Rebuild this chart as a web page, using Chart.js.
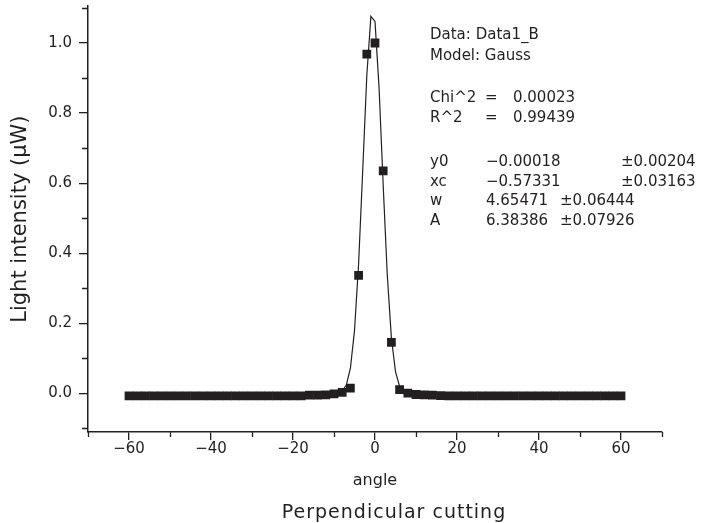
<!DOCTYPE html>
<html>
<head>
<meta charset="utf-8">
<script src="https://cdn.jsdelivr.net/npm/chart.js@4.4.1/dist/chart.umd.min.js"></script>
<style>
html,body{margin:0;padding:0;background:#fff;}
#wrap{width:720px;height:523px;position:relative;}
</style>
</head>
<body>
<div id="wrap"><canvas id="c" width="720" height="523"></canvas></div>
<script>
// ---- measured data (angle vs light intensity) ----
const pointX = [-60,-58,-56,-54,-52,-50,-48,-46,-44,-42,-40,-38,-36,-34,-32,-30,-28,-26,-24,-22,-20,-18,
  -16,-14,-12,-10,-8,-6,-4,-2,0,2,4,6,8,10,12,14,16,
  18,20,22,24,26,28,30,32,34,36,38,40,42,44,46,48,50,52,54,56,58,60];
const pointY = [-0.007,-0.007,-0.007,-0.007,-0.007,-0.007,-0.007,-0.007,-0.007,-0.007,-0.007,-0.007,-0.007,-0.007,-0.007,-0.007,-0.007,-0.007,-0.007,-0.007,-0.007,-0.007,
  -0.005,-0.005,-0.004,-0.001,0.003,0.015,0.337,0.968,1.000,0.635,0.146,0.011,0.001,-0.003,-0.004,-0.005,-0.006,
  -0.007,-0.007,-0.007,-0.007,-0.007,-0.007,-0.007,-0.007,-0.007,-0.007,-0.007,-0.007,-0.007,-0.007,-0.007,-0.007,-0.007,-0.007,-0.007,-0.007,-0.007,-0.007];

// ---- fitted Gauss curve, as drawn ----
const fitX = [-60,-12,-11,-10,-9,-8,-7,-6,-5,-4,-3,-2,-1,0,1,2,3,4,5,6,7,8,9,10,11,12,60];
const fitY = [-0.0002,-0.0002,-0.0001,0.0001,0.0014,0.0065,0.0240,0.0720,0.1791,0.3700,0.6352,0.9066,1.0759,
  1.0614,0.8706,0.5936,0.3365,0.1586,0.0620,0.0201,0.0053,0.0011,0.0001,-0.0002,-0.0002,-0.0002,-0.0002];

// ---- ticks ----
const xTickValues = [-60,-40,-20,0,20,40,60];
const xTickLabels = ['\u221260','\u221240','\u221220','0','20','40','60'];
const xMinorTicks = [-70,-50,-30,-10,10,30,50,70];
const yTickValues = [0,0.2,0.4,0.6,0.8,1.0];
const yTickLabels = ['0.0','0.2','0.4','0.6','0.8','1.0'];
const yMinorTicks = [-0.1,0.1,0.3,0.5,0.7,0.9,1.1];

// ---- texts ----
const xTitle = 'angle';
const yTitle = 'Light intensity (\u03bcW)';
const caption = 'Perpendicular cutting';
const fitHeader = ['Data: Data1_B', 'Model: Gauss'];
const fitStats = [['Chi^2', '=', '0.00023'], ['R^2', '=', '0.99439']];
const fitParams = [
  ['y0', '\u22120.00018', '\u00b10.00204'],
  ['xc', '\u22120.57331', '\u00b10.03163'],
  ['w', '4.65471', '\u00b10.06444'],
  ['A', '6.38386', '\u00b10.07926']
];

const INK = '#231f20';
const FONT = '"DejaVu Sans", "Liberation Sans", sans-serif';

const extrasPlugin = {
  id: 'extras',
  afterDraw(chart) {
    const ctx = chart.ctx;
    const xs = chart.scales.x, ys = chart.scales.y;
    const area = chart.chartArea;
    ctx.save();
    // minor ticks
    ctx.strokeStyle = INK;
    ctx.lineWidth = 1.3;
    ctx.beginPath();
    xMinorTicks.forEach(v => {
      const px = Math.round(xs.getPixelForValue(v)) + 0.5;
      ctx.moveTo(px, area.bottom);
      ctx.lineTo(px, area.bottom + 5);
    });
    yMinorTicks.forEach(v => {
      const py = Math.round(ys.getPixelForValue(v)) + 0.5;
      ctx.moveTo(area.left, py);
      ctx.lineTo(area.left - 6, py);
    });
    ctx.stroke();

    // fit report text
    ctx.fillStyle = INK;
    ctx.font = '15px ' + FONT;
    ctx.textAlign = 'left';
    ctx.textBaseline = 'alphabetic';
    const c0 = 430;
    ctx.fillText(fitHeader[0], c0, 39);
    ctx.fillText(fitHeader[1], c0, 60);
    const statY = [101.5, 121.5];
    fitStats.forEach((r, i) => {
      ctx.fillText(r[0], c0, statY[i]);
      ctx.fillText(r[1], 485, statY[i]);
      ctx.fillText(r[2], 513, statY[i]);
    });
    const parY = [166, 185.5, 205, 224.5];
    const errX = [621, 621, 560, 560];
    fitParams.forEach((r, i) => {
      ctx.fillText(r[0], c0, parY[i]);
      ctx.fillText(r[1], 486, parY[i]);
      ctx.fillText(r[2], errX[i], parY[i]);
    });

    // caption
    ctx.font = '19px ' + FONT;
    ctx.textAlign = 'center';
    try { ctx.letterSpacing = '1px'; } catch (e) {}
    ctx.fillText(caption, 394, 518);
    ctx.restore();
  }
};

new Chart(document.getElementById('c'), {
  type: 'scatter',
  data: {
    datasets: [
      {
        label: 'Data1_B',
        data: pointX.map((x, i) => ({x: x, y: pointY[i]})),
        showLine: false,
        pointStyle: 'rect',
        pointRadius: 6.2,
        pointHoverRadius: 6.2,
        backgroundColor: INK,
        borderColor: INK,
        borderWidth: 0,
        order: 0
      },
      {
        label: 'Gauss fit',
        data: fitX.map((x, i) => ({x: x, y: fitY[i]})),
        showLine: true,
        pointRadius: 0,
        pointHoverRadius: 0,
        borderColor: INK,
        borderWidth: 1.2,
        tension: 0,
        fill: false,
        order: 1
      }
    ]
  },
  options: {
    responsive: false,
    animation: false,
    devicePixelRatio: 1,
    layout: {padding: {left: 0, right: 58, top: 6, bottom: 0}},
    plugins: {legend: {display: false}, tooltip: {enabled: false}},
    scales: {
      x: {
        type: 'linear',
        min: -70,
        max: 70,
        afterBuildTicks: s => { s.ticks = xTickValues.map(v => ({value: v})); },
        afterFit: s => { s.height = 91; s.paddingLeft = 0; s.paddingRight = 0; },
        ticks: {
          callback: (v, i) => xTickLabels[i],
          color: INK,
          font: {family: FONT, size: 15},
          padding: 0,
          maxRotation: 0,
          autoSkip: false
        },
        grid: {display: true, drawOnChartArea: false, drawTicks: true, tickLength: 8, color: INK, lineWidth: 1.3},
        border: {display: true, color: INK, width: 1.5},
        title: {display: true, text: xTitle, color: INK, font: {family: FONT, size: 16}, padding: {top: 0, bottom: 33}}
      },
      y: {
        type: 'linear',
        min: -0.11,
        max: 1.105,
        afterBuildTicks: s => { s.ticks = yTickValues.map(v => ({value: v})); },
        afterFit: s => { s.width = 88; s.paddingTop = 0; s.paddingBottom = 0; },
        ticks: {
          callback: (v, i) => yTickLabels[i],
          color: INK,
          font: {family: FONT, size: 15},
          padding: 7,
          autoSkip: false
        },
        grid: {display: true, drawOnChartArea: false, drawTicks: true, tickLength: 9, color: INK, lineWidth: 1.3},
        border: {display: true, color: INK, width: 1.5},
        title: {display: true, text: yTitle, color: INK, font: {family: FONT, size: 21}, padding: {top: 8, bottom: 0}}
      }
    }
  },
  plugins: [extrasPlugin]
});
</script>
</body>
</html>
